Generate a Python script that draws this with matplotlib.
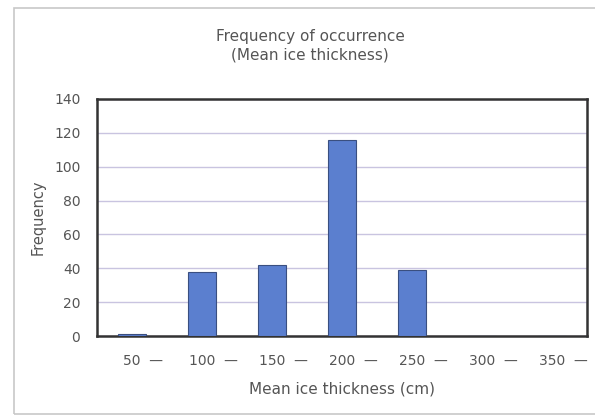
import matplotlib
matplotlib.use("Agg")
import matplotlib.pyplot as plt
import matplotlib.transforms as mtransforms
from matplotlib.patches import Rectangle

# data
categories = ["50", "100", "150", "200", "250", "300", "350"]
frequency = [1, 38, 42, 116, 39, 0, 0]
y_ticks = [0, 20, 40, 60, 80, 100, 120, 140]

TXT = "#555555"
BAR = "#5b7fcf"

fig = plt.figure(figsize=(5.95, 4.16), dpi=100)
fig.patch.set_facecolor("white")
W, H = 595, 416

# outer chart frame
fig.patches.append(Rectangle((14 / W, 1 - 414 / H), 600 / W, 406 / H,
                             transform=fig.transFigure, fill=False,
                             edgecolor="#c8c8c8", linewidth=1.2))

ax = fig.add_axes([97 / W, 1 - 336 / H, 490 / W, 237 / H])
x = list(range(len(categories)))
ax.bar(x, frequency, width=0.4, color=BAR, edgecolor="#3a4f80", linewidth=0.8, zorder=3)

ax.set_xlim(-0.5, len(categories) - 0.5)
ax.set_ylim(0, 140)
ax.set_yticks(y_ticks)
ax.set_yticklabels([str(v) for v in y_ticks], fontsize=10, color=TXT)
ax.set_xticks(x)
ax.set_xticklabels([c + "  \u2014" for c in categories], fontsize=10, color=TXT)
ax.tick_params(axis="y", length=0, pad=12)
ax.tick_params(axis="x", length=0, pad=13)
shift = mtransforms.ScaledTranslation(11 / 100, 0, fig.dpi_scale_trans)
for lbl in ax.get_xticklabels():
    lbl.set_transform(lbl.get_transform() + shift)
ax.grid(axis="y", color="#c9c4e0", linewidth=1.0, zorder=0)
for s in ax.spines.values():
    s.set_color("#333333")
    s.set_linewidth(1.8)

ax.set_xlabel("Mean ice thickness (cm)", fontsize=11, color=TXT, labelpad=10)
ax.set_ylabel("Frequency", fontsize=10.5, color=TXT, labelpad=6)

fig.text(310 / W, 1 - 36 / H, "Frequency of occurrence", ha="center", va="center",
         fontsize=11, color=TXT)
fig.text(310 / W, 1 - 55 / H, "(Mean ice thickness)", ha="center", va="center",
         fontsize=11, color=TXT)

fig.savefig("out.png", dpi=100)
